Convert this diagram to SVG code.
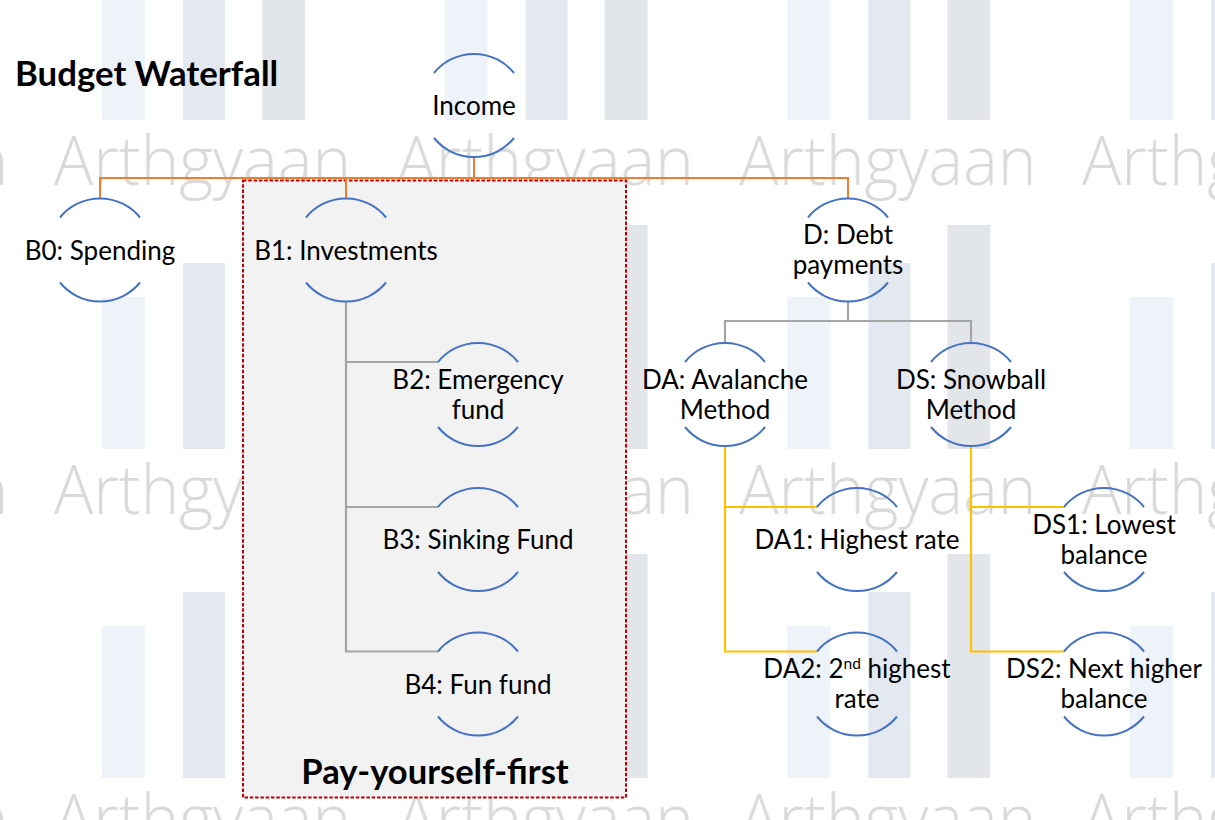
<svg xmlns="http://www.w3.org/2000/svg" xmlns:xlink="http://www.w3.org/1999/xlink" width="1215" height="820" viewBox="0 0 1215 820">
  <style>
    .arc { fill: none; stroke: #4472C4; stroke-width: 2; }
    .lbl { font-family: Lato, "Open Sans", "Liberation Sans", sans-serif; font-size: 26px; fill: #000; text-anchor: middle; }
    .ttl { font-family: Lato, "Open Sans", "Liberation Sans", sans-serif; font-weight: 700; fill: #000; }
    .c-or { fill: none; stroke: #ED7D31; stroke-width: 2; }
    .c-gr { fill: none; stroke: #A5A5A5; stroke-width: 2.2; }
    .c-ye { fill: none; stroke: #FFC000; stroke-width: 2.2; }
    .wm { font-family: "Open Sans", "DejaVu Sans", sans-serif; font-weight: 300; font-size: 68px; fill: #D9D9D9; }
  </style>
  <defs>
    <g id="arcs" class="arc">
      <path d="M-40,-32.5 A51.5,51.5 0 0 1 40,-32.5"/>
      <path d="M-40,32.5 A51.5,51.5 0 0 0 40,32.5"/>
    </g>
    <pattern id="wmTile" patternUnits="userSpaceOnUse" x="40" y="120" width="342.7" height="329">
      <rect x="62" y="177" width="43" height="152" fill="#EEF2F9"/>
      <rect x="143" y="143" width="42" height="186" fill="#E3E8F1"/>
      <rect x="222" y="105" width="43" height="224" fill="#E2E5EA"/>
      <text class="wm" x="14" y="65" textLength="297" lengthAdjust="spacingAndGlyphs">Arthgyaan</text>
    </pattern>
  </defs>

  <g id="background">
    <rect x="0" y="0" width="1215" height="820" fill="#FFFFFF"/>
    <rect x="0" y="0" width="1215" height="820" fill="url(#wmTile)"/>
  </g>

  <g id="pay-yourself-first">
    <rect x="243" y="180.5" width="383" height="617" fill="#F2F2F2" stroke="#C00000" stroke-width="2" stroke-dasharray="3.5 1.8"/>
    <text class="ttl" x="435" y="784" font-size="34.5" text-anchor="middle">Pay-yourself-first</text>
  </g>

  <text id="title" class="ttl" x="15" y="86" font-size="34.8">Budget Waterfall</text>

  <g id="connectors">
    <path class="c-or" d="M100,198.5 V178 H848 V198.5 M474,157 V178 M346,178 V198.5"/>
    <path class="c-gr" d="M346,301.5 V651.5 H438 M346,362 H438 M346,507 H438"/>
    <path class="c-gr" d="M848,301.5 V321 M725,343 V321 H971 V343"/>
    <path class="c-ye" d="M725,446 V651.5 H817 M725,507 H817"/>
    <path class="c-ye" d="M971,446 V651.5 H1064 M971,507 H1064"/>
  </g>

  <g id="income"><use xlink:href="#arcs" x="474" y="105.5"/><text class="lbl" x="474" y="115">Income</text></g>
  <g id="b0"><use xlink:href="#arcs" x="100" y="250"/><text class="lbl" x="100" y="259.5">B0: Spending</text></g>
  <g id="b1"><use xlink:href="#arcs" x="346" y="250"/><text class="lbl" x="346" y="259.5">B1: Investments</text></g>
  <g id="d"><use xlink:href="#arcs" x="848" y="250"/><text class="lbl" x="848" y="244">D: Debt</text><text class="lbl" x="848" y="274">payments</text></g>
  <g id="b2"><use xlink:href="#arcs" x="478" y="394.5"/><text class="lbl" x="478" y="388.5">B2: Emergency</text><text class="lbl" x="478" y="418.5">fund</text></g>
  <g id="b3"><use xlink:href="#arcs" x="478" y="539.5"/><text class="lbl" x="478" y="549">B3: Sinking Fund</text></g>
  <g id="b4"><use xlink:href="#arcs" x="478" y="684"/><text class="lbl" x="478" y="693.5">B4: Fun fund</text></g>
  <g id="da"><use xlink:href="#arcs" x="725" y="394.5"/><text class="lbl" x="725" y="388.5">DA: Avalanche</text><text class="lbl" x="725" y="418.5">Method</text></g>
  <g id="ds"><use xlink:href="#arcs" x="971" y="394.5"/><text class="lbl" x="971" y="388.5">DS: Snowball</text><text class="lbl" x="971" y="418.5">Method</text></g>
  <g id="da1"><use xlink:href="#arcs" x="857" y="539.5"/><text class="lbl" x="857" y="549">DA1: Highest rate</text></g>
  <g id="da2"><use xlink:href="#arcs" x="857" y="684"/><text class="lbl" x="857" y="678">DA2: 2<tspan dy="-9" font-size="15.5">nd</tspan><tspan dy="9"> highest</tspan></text><text class="lbl" x="857" y="708">rate</text></g>
  <g id="ds1"><use xlink:href="#arcs" x="1104" y="539.5"/><text class="lbl" x="1104" y="533.5">DS1: Lowest</text><text class="lbl" x="1104" y="563.5">balance</text></g>
  <g id="ds2"><use xlink:href="#arcs" x="1104" y="684"/><text class="lbl" x="1104" y="678">DS2: Next higher</text><text class="lbl" x="1104" y="708">balance</text></g>
</svg>
